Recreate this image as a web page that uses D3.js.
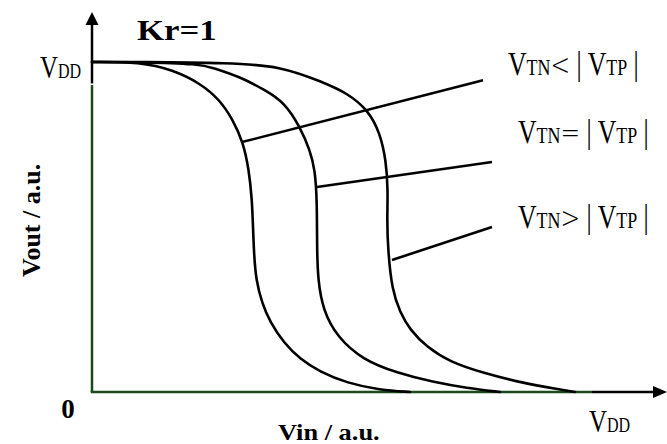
<!DOCTYPE html>
<html>
<head>
<meta charset="utf-8">
<script src="https://cdn.jsdelivr.net/npm/d3@7"></script>
<style>
  html, body { margin: 0; padding: 0; background: #fff; }
  svg { display: block; }
  text { font-family: "Liberation Serif", "Times New Roman", serif; fill: #000; }
</style>
</head>
<body>
<svg id="chart" width="667" height="444"></svg>
<script>
// Inverter voltage transfer curves (Vin vs Vout, normalised to VDD), Kr = 1
const curveNames = ["VTN<|VTP|", "VTN=|VTP|", "VTN>|VTP|"];

const vinLow = [0, 0.096, 0.162, 0.216, 0.256, 0.282, 0.302, 0.314, 0.32, 0.322, 0.324, 0.328, 0.34, 0.356, 0.384, 0.416, 0.456, 0.51, 0.576, 0.636];
const voutLow = [1, 1, 0.976, 0.936, 0.885, 0.824, 0.758, 0.673, 0.582, 0.5, 0.42, 0.339, 0.27, 0.212, 0.148, 0.1, 0.061, 0.027, 0.006, 0];

const vinEq = [0, 0.096, 0.216, 0.242, 0.296, 0.346, 0.386, 0.416, 0.436, 0.446, 0.45, 0.45, 0.452, 0.462, 0.49, 0.542, 0.61, 0.682, 0.75, 0.816];
const voutEq = [1, 1, 0.994, 0.982, 0.955, 0.915, 0.876, 0.803, 0.733, 0.673, 0.582, 0.43, 0.339, 0.248, 0.167, 0.097, 0.058, 0.03, 0.012, 0];

const vinHigh = [0, 0.096, 0.276, 0.376, 0.462, 0.51, 0.552, 0.576, 0.588, 0.592, 0.59, 0.592, 0.6, 0.616, 0.636, 0.67, 0.716, 0.782, 0.862, 0.93, 0.966];
const voutHigh = [1, 1, 0.997, 0.988, 0.939, 0.906, 0.855, 0.785, 0.703, 0.612, 0.521, 0.43, 0.309, 0.242, 0.188, 0.136, 0.091, 0.058, 0.027, 0.009, 0];

// leader lines: [vin, vout] on the curve -> [vin, vout] next to the label
const leaderFrom = [[0.302, 0.758], [0.45, 0.621], [0.6, 0.4]];
const leaderTo = [[0.782, 0.945], [0.8, 0.697], [0.8, 0.5]];

const labelRelations = ["<", "=", ">"];
const axisTicks = ["0", "VDD"];

const svg = d3.select("#chart");
const x = d3.scaleLinear().domain([0, 1]).range([92, 592]);
const y = d3.scaleLinear().domain([0, 1]).range([392, 62]);
const green = "#1d4a1d";

// axes: green body, black near the arrow heads
svg.append("line").attr("x1", x(0)).attr("x2", x(0)).attr("y1", y(0)).attr("y2", y(0.93))
  .attr("stroke", green).attr("stroke-width", 2.5);
svg.append("line").attr("x1", x(0)).attr("x2", x(0)).attr("y1", y(0.935)).attr("y2", 22)
  .attr("stroke", "#000").attr("stroke-width", 2.5);
svg.append("path").attr("d", `M${x(0)},12 L${x(0) - 6.5},25 L${x(0) + 6.5},25 Z`).attr("fill", "#000");

svg.append("line").attr("x1", x(0) - 1.25).attr("x2", x(1)).attr("y1", y(0)).attr("y2", y(0))
  .attr("stroke", green).attr("stroke-width", 2.5);
svg.append("line").attr("x1", x(1)).attr("x2", 656).attr("y1", y(0)).attr("y2", y(0))
  .attr("stroke", "#000").attr("stroke-width", 2.5);
svg.append("path").attr("d", `M667,${y(0)} L653,${y(0) - 6} L653,${y(0) + 6} Z`).attr("fill", "#000");

// transfer curves
const line = d3.line().x(d => x(d[0])).y(d => y(d[1])).curve(d3.curveBasis);
const series = [
  d3.zip(vinLow, voutLow),
  d3.zip(vinEq, voutEq),
  d3.zip(vinHigh, voutHigh)
];
svg.selectAll("path.vtc").data(series).join("path")
  .attr("class", "vtc")
  .attr("d", line)
  .attr("fill", "none").attr("stroke", "#000").attr("stroke-width", 2.6)
  .attr("stroke-linejoin", "round").attr("stroke-linecap", "round");

// leader lines to labels
svg.selectAll("line.leader").data(d3.zip(leaderFrom, leaderTo)).join("line")
  .attr("class", "leader")
  .attr("x1", d => x(d[0][0])).attr("y1", d => y(d[0][1]))
  .attr("x2", d => x(d[1][0])).attr("y2", d => y(d[1][1]))
  .attr("stroke", "#000").attr("stroke-width", 2.6);

// curve labels, e.g. V_TN < |V_TP|, drawn narrow and tall
const labelPos = [[508, 75], [518, 143], [518, 228]];
curveNames.forEach((name, i) => {
  const [lx, ly] = labelPos[i];
  const t = svg.append("text").attr("transform", `translate(${lx},${ly}) scale(0.78,1)`);
  t.append("tspan").attr("font-size", 33).text("V");
  t.append("tspan").attr("font-size", 23).text("TN");
  t.append("tspan").attr("font-size", 30).attr("font-family", "DejaVu Sans").attr("font-weight", 200)
    .text(labelRelations[i]);
  t.append("tspan").attr("font-size", 33).text(" | V");
  t.append("tspan").attr("font-size", 23).text("TP");
  t.append("tspan").attr("font-size", 33).text(" |");
});

// VDD marks on both axes
function vddLabel(px, py) {
  const t = svg.append("text").attr("transform", `translate(${px},${py}) scale(0.8,1)`);
  t.append("tspan").attr("font-size", 31).text(axisTicks[1].slice(0, 1));
  t.append("tspan").attr("font-size", 20).text(axisTicks[1].slice(1));
}
vddLabel(40, 78);
vddLabel(589, 432);

svg.append("text").attr("x", 68).attr("y", 418).attr("text-anchor", "middle")
  .attr("font-size", 27).attr("font-weight", "bold").text(axisTicks[0]);

// titles
svg.append("text").attr("transform", "translate(137,40) scale(1.2,1)")
  .attr("font-size", 29).attr("font-weight", "bold").text("Kr=1");

svg.append("text").attr("transform", "translate(278,440) scale(1.1,1)")
  .attr("font-size", 24).attr("font-weight", "bold").text("Vin / a.u.");

svg.append("text").attr("transform", "translate(40,277) rotate(-90)")
  .attr("font-size", 26).attr("font-weight", "bold").text("Vout / a.u.");
</script>
</body>
</html>
